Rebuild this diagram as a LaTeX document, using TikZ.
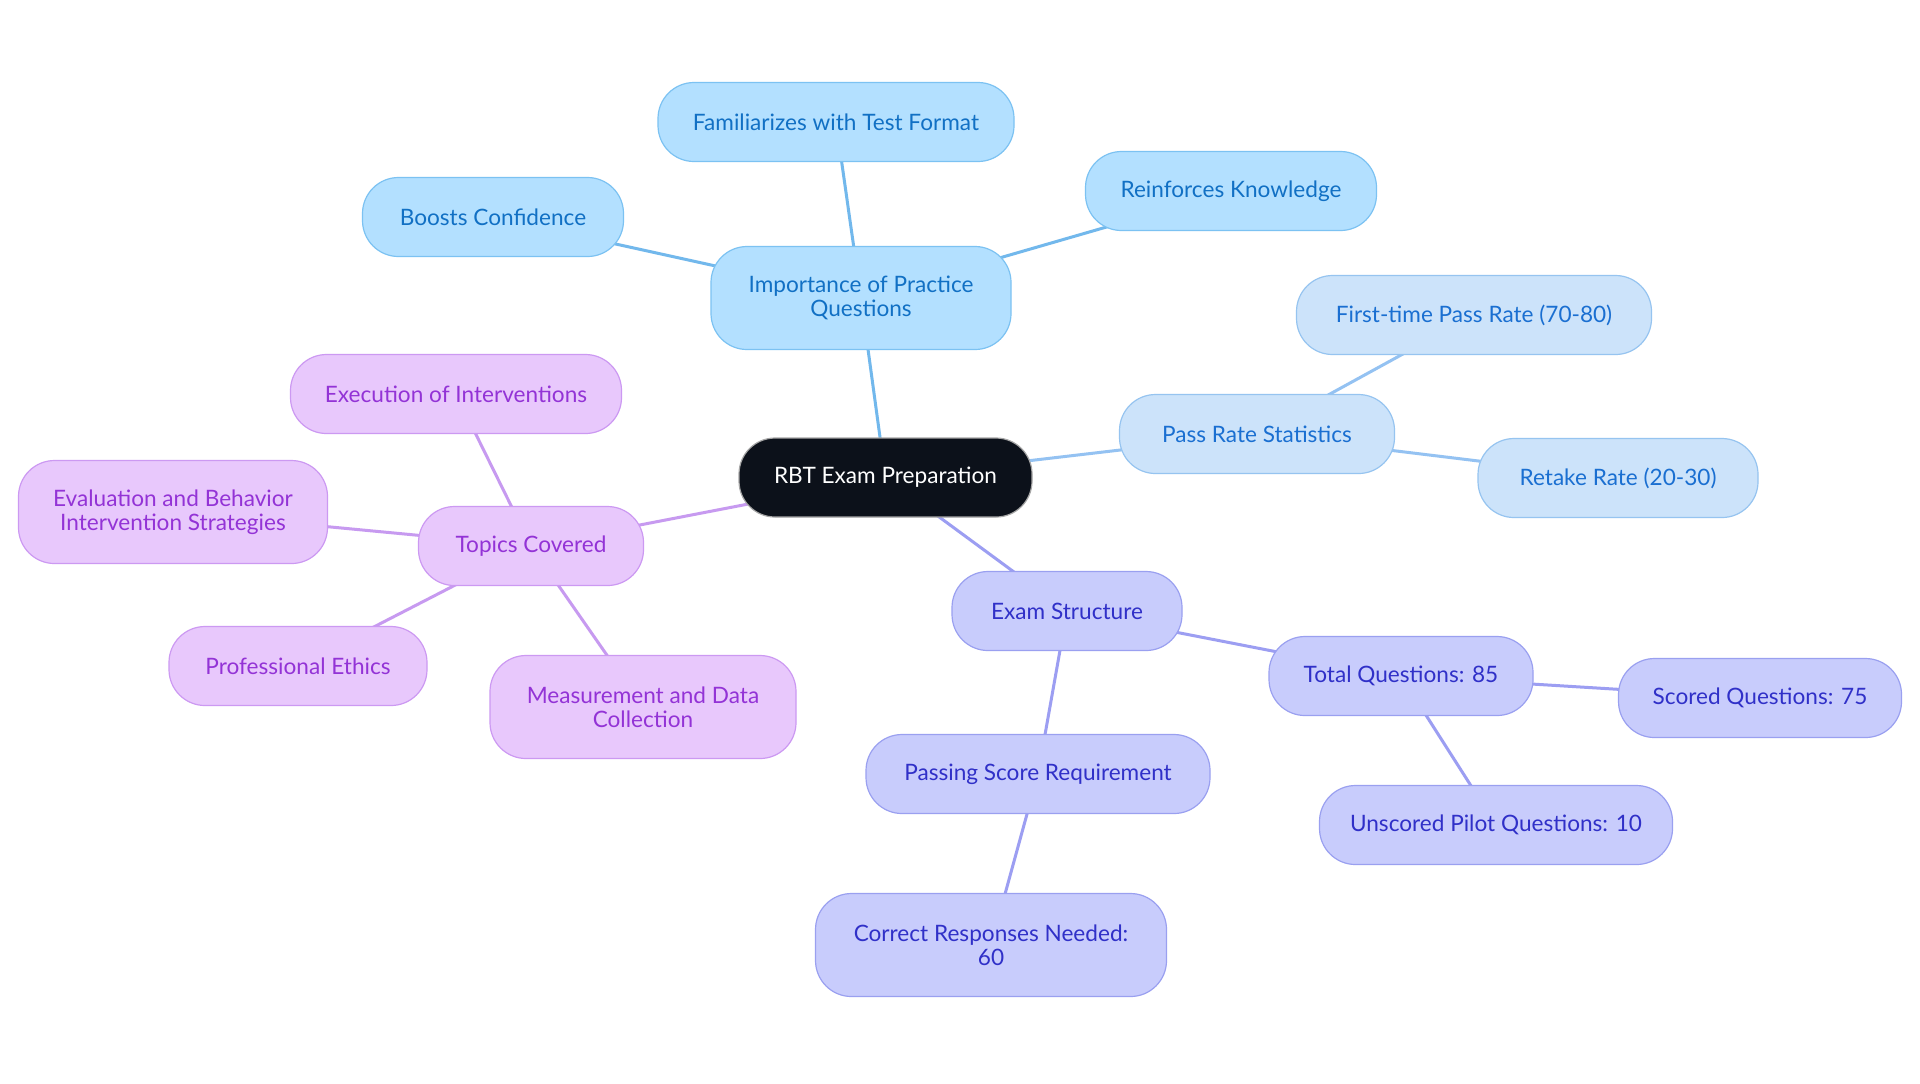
\documentclass[tikz,border=0pt]{standalone}
\usepackage{fontspec}
\setmainfont{Lato}
\usetikzlibrary{backgrounds}
\definecolor{bfill}{HTML}{B3E0FF}
\definecolor{bdraw}{HTML}{7CC2F2}
\definecolor{btext}{HTML}{1170C4}
\definecolor{bedge}{HTML}{72B8EC}
\definecolor{lfill}{HTML}{CCE3FA}
\definecolor{ldraw}{HTML}{96C4F0}
\definecolor{ltext}{HTML}{1A6FD1}
\definecolor{ledge}{HTML}{94C2F2}
\definecolor{pfill}{HTML}{E8C8FC}
\definecolor{pdraw}{HTML}{CC99F2}
\definecolor{ptext}{HTML}{9333D6}
\definecolor{pedge}{HTML}{C79AF0}
\definecolor{vfill}{HTML}{C8CCFC}
\definecolor{vdraw}{HTML}{9AA0F0}
\definecolor{vtext}{HTML}{3030C8}
\definecolor{vedge}{HTML}{9C9EF2}
\definecolor{cfill}{HTML}{0C111A}
\begin{document}
\begin{tikzpicture}[x=0.5pt,y=-0.5pt,
  base/.style={rounded corners=18pt, minimum height=39.5pt, align=center,
    font=\fontsize{11.3}{12.2}\selectfont, line width=0.6pt, inner sep=0pt},
  tall/.style={minimum height=51.5pt},
  bnode/.style={base, fill=bfill, draw=bdraw, text=btext},
  lnode/.style={base, fill=lfill, draw=ldraw, text=ltext},
  pnode/.style={base, fill=pfill, draw=pdraw, text=ptext},
  vnode/.style={base, fill=vfill, draw=vdraw, text=vtext},
  cnode/.style={base, fill=cfill, draw=gray!70, text=white},
  edge/.style={line width=1.5pt}]
\useasboundingbox (0,0) rectangle (1920,1083);

\node[cnode, minimum width=146.5pt] (root) at (885.5,477.5) {RBT Exam Preparation};

\node[bnode, tall, minimum width=150pt] (imp) at (861,298) {Importance of Practice\\Questions};
\node[bnode, minimum width=178pt] (fam) at (836,122) {Familiarizes with Test Format};
\node[bnode, minimum width=130.5pt] (boo) at (493,217) {Boosts Confidence};
\node[bnode, minimum width=145.5pt] (rei) at (1231,191) {Reinforces Knowledge};

\node[lnode, minimum width=137.5pt] (pass) at (1257,434) {Pass Rate Statistics};
\node[lnode, minimum width=177.5pt] (first) at (1474,315) {First-time Pass Rate (70-80)};
\node[lnode, minimum width=140pt] (ret) at (1618,478) {Retake Rate (20-30)};

\node[pnode, minimum width=112.5pt] (top) at (531,546) {Topics Covered};
\node[pnode, minimum width=165.5pt] (exe) at (456,394) {Execution of Interventions};
\node[pnode, tall, minimum width=154.5pt] (eva) at (173,512) {Evaluation and Behavior\\Intervention Strategies};
\node[pnode, minimum width=129pt] (eth) at (298,666) {Professional Ethics};
\node[pnode, tall, minimum width=153pt] (mea) at (643,707) {Measurement and Data\\Collection};

\node[vnode, minimum width=115pt] (exam) at (1067,611) {Exam Structure};
\node[vnode, minimum width=132pt] (tot) at (1401,676) {Total Questions: 85};
\node[vnode, minimum width=141.5pt] (sco) at (1760,698) {Scored Questions: 75};
\node[vnode, minimum width=176.5pt] (uns) at (1496,825) {Unscored Pilot Questions: 10};
\node[vnode, minimum width=172pt] (psr) at (1038,774) {Passing Score Requirement};
\node[vnode, tall, minimum width=175.5pt] (cor) at (991,945) {Correct Responses Needed:\\60};

\begin{scope}[on background layer]
\fill[white] (0,0) rectangle (1920,1083);
\draw[edge, bedge] (root.center) -- (imp.center);
\draw[edge, bedge] (imp.center) -- (fam.center);
\draw[edge, bedge] (imp.center) -- (boo.center);
\draw[edge, bedge] (imp.center) -- (rei.center);
\draw[edge, ledge] (root.center) -- (pass.center);
\draw[edge, ledge] (pass.center) -- (first.center);
\draw[edge, ledge] (pass.center) -- (ret.center);
\draw[edge, pedge] (root.center) -- (top.center);
\draw[edge, pedge] (top.center) -- (exe.center);
\draw[edge, pedge] (top.center) -- (eva.center);
\draw[edge, pedge] (top.center) -- (eth.center);
\draw[edge, pedge] (top.center) -- (mea.center);
\draw[edge, vedge] (root.center) -- (exam.center);
\draw[edge, vedge] (exam.center) -- (tot.center);
\draw[edge, vedge] (tot.center) -- (sco.center);
\draw[edge, vedge] (tot.center) -- (uns.center);
\draw[edge, vedge] (exam.center) -- (psr.center);
\draw[edge, vedge] (psr.center) -- (cor.center);
\end{scope}
\end{tikzpicture}
\end{document}
